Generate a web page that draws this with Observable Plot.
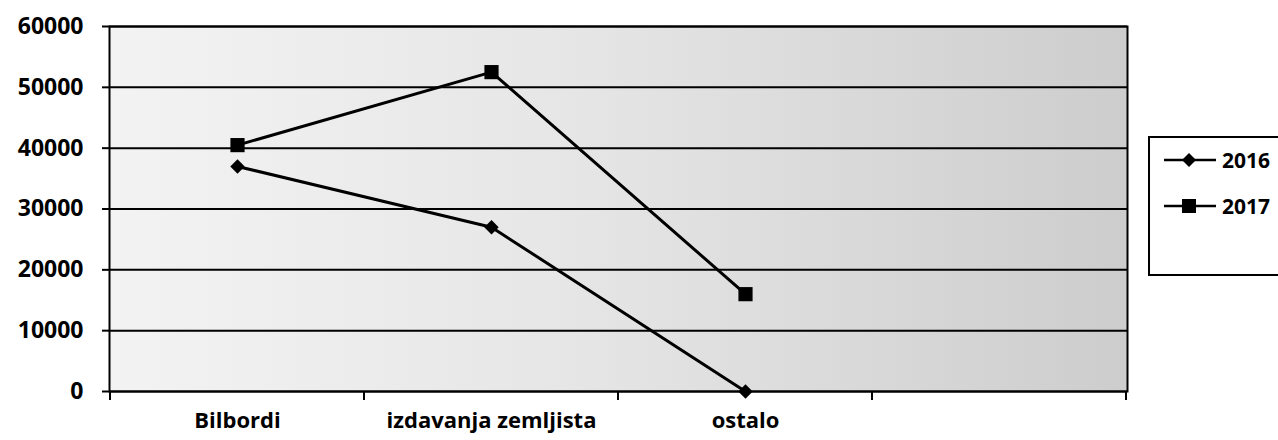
<!DOCTYPE html>
<html>
<head>
<meta charset="utf-8">
<script src="https://cdn.jsdelivr.net/npm/d3@7"></script>
<script src="https://cdn.jsdelivr.net/npm/@observablehq/plot@0.6"></script>
<style>
  body { margin: 0; background: #fff; font-family: "Open Sans", sans-serif; }
  #wrap { position: relative; width: 1278px; height: 440px; overflow: hidden; }
  #legend { position: absolute; left: 1148px; top: 136px; width: 150px; height: 140px;
            border: 2px solid #000; border-right: none; box-sizing: border-box; background: #fff; }
  .item { position: absolute; left: 12px; display: flex; align-items: center; gap: 4px;
          font-weight: 700; font-size: 21px; line-height: 20px; color: #000; }
</style>
</head>
<body>
<div id="wrap"></div>
<script>
// ---- data ----
const categories = ["Bilbordi", "izdavanja zemljista", "ostalo", ""];
const series = ["2016", "2017"];
const values2016 = [37000, 27000, 0];
const values2017 = [40500, 52500, 16000];
const yTicks = [0, 10000, 20000, 30000, 40000, 50000, 60000];

const rows2016 = values2016.map((v, i) => ({cat: categories[i], value: v}));
const rows2017 = values2017.map((v, i) => ({cat: categories[i], value: v}));

// tick marks at band boundaries (Excel-style category axis)
function bandTicks(index, scales, values, dims) {
  const x = scales.x, bw = x.bandwidth();
  const edges = categories.map(c => x(c)).concat([x(categories[categories.length - 1]) + bw]);
  const y0 = dims.height - dims.marginBottom;
  const g = d3.create("svg:g").attr("stroke", "#000").attr("stroke-width", 2);
  g.selectAll("line").data(edges).join("line")
    .attr("x1", d => d).attr("x2", d => d)
    .attr("y1", y0).attr("y2", y0 + 9);
  return g.node();
}

const chart = Plot.plot({
  width: 1278,
  height: 440,
  marginLeft: 109,
  marginRight: 151,
  marginTop: 26,
  marginBottom: 49,
  style: {fontFamily: "Open Sans, sans-serif", color: "#000", background: "transparent"},
  x: {type: "band", domain: categories, padding: 0},
  y: {domain: [0, 60000]},
  marks: [
    Plot.frame({fill: "url(#bgGrad)", stroke: null}),
    Plot.gridY(yTicks, {stroke: "#000", strokeOpacity: 1, strokeWidth: 2}),
    Plot.axisY({ticks: yTicks, tickFormat: d3.format("d"), tickSize: 7, tickPadding: 19,
                fontSize: 23, fontWeight: 700, strokeWidth: 2, label: null}),
    Plot.axisX({tickSize: 0, tickPadding: 21, fontSize: 22, fontWeight: 700, label: null}),
    Plot.frame({stroke: "#000", strokeWidth: 2}),
    bandTicks,
    Plot.line(rows2016, {x: "cat", y: "value", stroke: "#000", strokeWidth: 3}),
    Plot.line(rows2017, {x: "cat", y: "value", stroke: "#000", strokeWidth: 3}),
    Plot.dot(rows2016, {x: "cat", y: "value", symbol: "diamond2", r: 6.5, fill: "#000", stroke: "none"}),
    Plot.dot(rows2017, {x: "cat", y: "value", symbol: "square", r: 8, fill: "#000", stroke: "none"})
  ]
});

chart.insertAdjacentHTML("afterbegin",
  '<defs><linearGradient id="bgGrad" x1="0" x2="1" y1="0" y2="0">' +
  '<stop offset="0" stop-color="#f3f3f3"/><stop offset="0.45" stop-color="#e6e6e6"/>' +
  '<stop offset="1" stop-color="#cdcdcd"/></linearGradient></defs>');

const wrap = document.getElementById("wrap");
wrap.appendChild(chart);

// legend
const legend = document.createElement("div");
legend.id = "legend";
const symbols = {"2016": "diamond", "2017": "square"};
series.forEach((s, i) => {
  const item = document.createElement("div");
  item.className = "item";
  item.style.top = (12 + i * 46) + "px";
  const mk = symbols[s] === "diamond"
    ? '<path d="M27,1 L34,8 L27,15 L20,8 Z" fill="#000"/>'
    : '<rect x="20" y="1" width="14" height="14" fill="#000"/>';
  item.innerHTML = '<svg width="56" height="16"><line x1="2" x2="54" y1="8" y2="8" stroke="#000" stroke-width="2.5"/>' + mk + '</svg><span>' + s + '</span>';
  legend.appendChild(item);
});
wrap.appendChild(legend);
</script>
</body>
</html>
